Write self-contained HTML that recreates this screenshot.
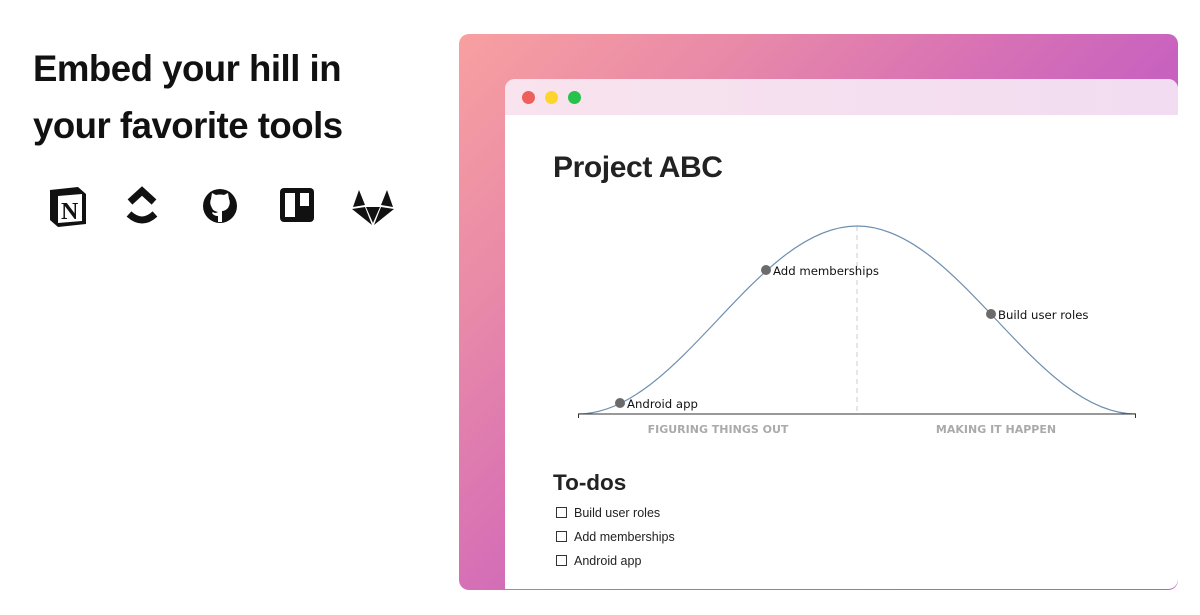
<!DOCTYPE html>
<html><head><meta charset="utf-8"><style>
body{margin:0;width:1200px;height:615px;background:#fff;position:relative;overflow:hidden;font-family:"Liberation Sans",sans-serif}
.h{position:absolute;left:33px;top:40px;font-size:36.6px;font-weight:bold;line-height:57px;color:#111;letter-spacing:-0.5px}
.bg{position:absolute;left:459px;top:34px;width:719px;height:556px;border-radius:10px;background:linear-gradient(135deg,#f8a0a0 0%,#e98aa8 22%,#d872b4 42%,#c862bf 58%,#c25cc4 80%)}
.win{position:absolute;left:505px;top:79px;width:673px;height:510px;border-radius:10px 10px 10px 0;background:#fff;overflow:hidden}
.bar{height:36px;background:linear-gradient(90deg,#f8e3ee,#f1dcf1)}
.dot{position:absolute;top:12px;width:13px;height:13px;border-radius:50%}
.t{position:absolute}
</style></head><body>
<div class="h">Embed your hill in<br>your favorite tools</div>
<svg style="position:absolute;left:0;top:0" width="459" height="615">
 <g transform="translate(48,186)">
  <path d="M2 4 L30 1 L38 8 L38 38 L10 41 L2 34 Z" fill="#111"/>
  <path d="M10 10 L34 8 L34 35 L10 37 Z" fill="#fff"/>
  <text x="13" y="33" font-family="Liberation Serif" font-weight="bold" font-size="24" fill="#111">N</text>
 </g>
 <g transform="translate(126,186)" fill="none" stroke="#111" stroke-width="7" stroke-linejoin="miter">
  <path d="M4 16 L16 5 L28 16"/>
  <path d="M3 28 Q16 40 29 28"/>
 </g>
 <circle cx="220" cy="206" r="17" fill="#111"/>
 <path d="M211 199 L212 193 L216 195 Q220 194 224 195 L228 193 L229 199 Q231 203 228 208 Q225 211 222 211 L222 222 L218 222 L218 216 Q214 216 212 213 L213 212 Q215 214 218 212 Q213 211 212 208 Q209 203 211 199 Z" fill="#fff"/>
 <rect x="280" y="188" width="34" height="34" rx="4" fill="#111"/>
 <rect x="285" y="193" width="10" height="24" fill="#fff"/>
 <rect x="300" y="193" width="9" height="13" fill="#fff"/>
 <g transform="translate(352,189)" fill="#111">
  <path d="M1 18 L7 1 L13 16 Z"/><path d="M41 18 L35 1 L29 16 Z"/>
  <path d="M0 20 L13 18 L20 36 Z"/><path d="M42 20 L29 18 L22 36 Z"/>
  <path d="M14 18 L28 18 L21 34 Z"/>
 </g>
</svg>
<div class="bg"></div>
<div class="win">
 <div class="bar"></div>
 <div class="dot" style="left:17px;background:#ee5f5b"></div>
 <div class="dot" style="left:40px;background:#fdd52e"></div>
 <div class="dot" style="left:63px;background:#27c24c"></div>
</div>
<div class="t" style="left:553px;top:151px;font-weight:bold;font-size:30px;color:#222;letter-spacing:-0.4px">Project ABC</div>
<svg style="position:absolute;left:0;top:0" width="1200" height="615">
 <line x1="857" y1="226" x2="857" y2="414" stroke="#ccc" stroke-dasharray="5,4"/>
 <path d="M578 414 C679.6 414 755.4 226 857 226 C958.6 226 1034.4 414 1136 414" fill="none" stroke="#6f8fb0" stroke-width="1.2"/>
 <path d="M578.5 418 L578.5 414 L1135.5 414 L1135.5 418" fill="none" stroke="#333" stroke-width="1"/>
 <circle cx="620" cy="403" r="5" fill="#6b6b6b"/>
 <circle cx="766" cy="270" r="5" fill="#6b6b6b"/>
 <circle cx="991" cy="314" r="5" fill="#6b6b6b"/>
 <g font-family="DejaVu Sans,sans-serif" font-size="11.7" fill="#111">
  <text x="627" y="408">Android app</text>
  <text x="773" y="275">Add memberships</text>
  <text x="998" y="319">Build user roles</text>
 </g>
 <g font-family="DejaVu Sans,sans-serif" font-size="11" font-weight="bold" fill="#aaa" text-anchor="middle">
  <text x="718" y="433">FIGURING THINGS OUT</text>
  <text x="996" y="433">MAKING IT HAPPEN</text>
 </g>
 <text x="553" y="490" font-family="Liberation Sans,sans-serif" font-size="22.5" font-weight="bold" fill="#222">To-dos</text>
 <g fill="none" stroke="#333" stroke-width="1">
  <rect x="556.5" y="507.5" width="10" height="10"/>
  <rect x="556.5" y="531.5" width="10" height="10"/>
  <rect x="556.5" y="555.5" width="10" height="10"/>
 </g>
 <g font-family="Liberation Sans,sans-serif" font-size="12.5" fill="#222">
  <text x="574" y="517">Build user roles</text>
  <text x="574" y="541">Add memberships</text>
  <text x="574" y="565">Android app</text>
 </g>
</svg>
</body></html>
